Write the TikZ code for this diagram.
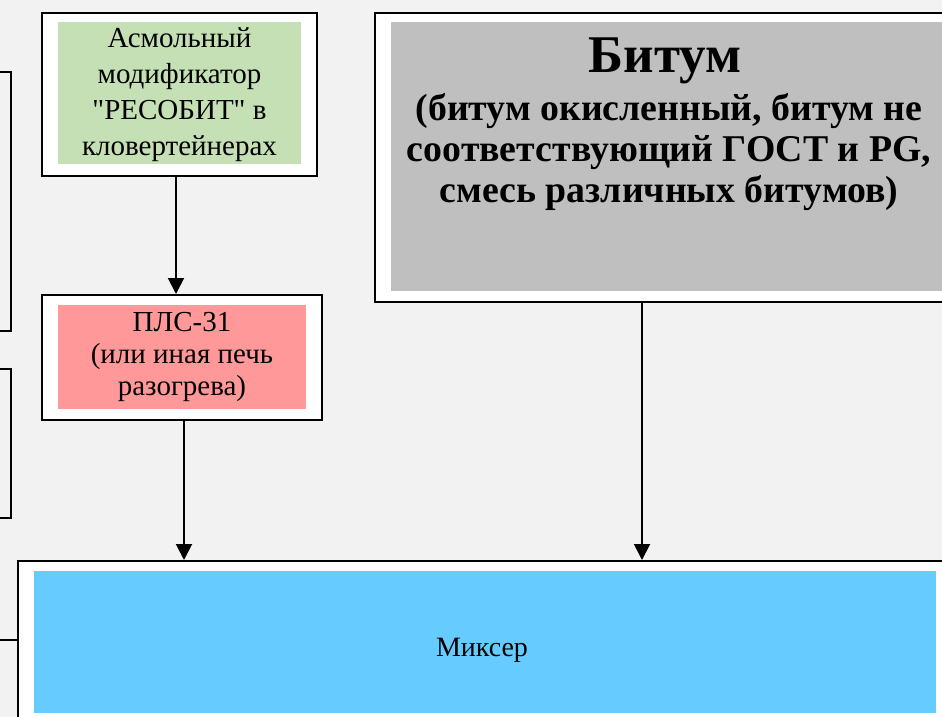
\documentclass[tikz,border=0pt]{standalone}
\usepackage{fontspec}
\setmainfont{Liberation Serif}
\newfontfamily\rawserif{Liberation Serif}[Ligatures=TeXOff]
\usetikzlibrary{arrows.meta,calc}
\definecolor{bgc}{HTML}{F2F2F2}
\definecolor{greenc}{HTML}{C5E0B4}
\definecolor{pinkc}{HTML}{FF9999}
\definecolor{grayc}{HTML}{BFBFBF}
\definecolor{cyanc}{HTML}{66CCFF}
\tikzset{
  outerbox/.style={draw=black,line width=1.9pt,fill=white,anchor=north west,inner sep=0pt},
  innerbox/.style={anchor=north west,inner sep=0pt,align=center},
  leftbox/.style={draw=black,line width=1.9pt,fill=bgc,anchor=north west,inner sep=0pt},
  conn/.style={line width=1.9pt},
  arr/.style={line width=1.9pt,-{Triangle[length=16pt,width=16pt]}},
  normtext/.style={font=\fontsize{29}{34}\selectfont,align=center,inner sep=0pt},
}
\begin{document}
\begin{tikzpicture}[x=1pt,y=-1pt]
\useasboundingbox (0,0) rectangle (942,717);
\fill[bgc] (0,0) rectangle (942,717);
\clip (0,0) rectangle (942,717);

% left partial boxes
\node[leftbox,minimum width=20pt,minimum height=259pt] (left1) at (-10,71) {};
\node[leftbox,minimum width=20pt,minimum height=149pt] (left2) at (-10,368) {};

% Asmol modifier
\node[outerbox,minimum width=275pt,minimum height=163pt] (asmolOuter) at (41,12) {};
\node[innerbox,fill=greenc,minimum width=243pt,minimum height=142pt] (asmol) at (58,22) {};
\node[normtext,font=\fontsize{29}{36}\selectfont] (asmolText) at (179.5,95) {Асмольный\\модификатор\\{\rawserif"РЕСОБИТ"} в\\кловертейнерах};

% PLS-31
\node[outerbox,minimum width=280pt,minimum height=125pt] (plsOuter) at (41,294) {};
\node[innerbox,fill=pinkc,minimum width=248pt,minimum height=104pt] (pls) at (58,305) {};
\node[normtext,font=\fontsize{29}{32}\selectfont] (plsText) at (182,357) {ПЛС-31\\(или иная печь\\разогрева)};

% Bitum
\node[outerbox,minimum width=600pt,minimum height=289pt] (bitOuter) at (374,12) {};
\node[innerbox,fill=grayc,minimum width=560pt,minimum height=269pt] (bit) at (391,22) {};
\node[font=\fontsize{53}{60}\selectfont\bfseries,inner sep=0pt,anchor=base] (bitTitle) at (665,72) {Битум};
\node[font=\fontsize{37.8}{41}\selectfont\bfseries,inner sep=0pt,align=center] (bitText) at (669,152) {(битум окисленный, битум не\\соответствующий ГОСТ и PG,\\смесь различных битумов)};

% Mixer
\node[outerbox,minimum width=950pt,minimum height=170pt] (mixOuter) at (17,560) {};
\node[innerbox,fill=cyanc,minimum width=902pt,minimum height=142pt] (mix) at (34,571) {};
\node[font=\fontsize{28}{32}\selectfont,inner sep=0pt] (mixText) at (482,650) {Миксер};

% connectors
\coordinate (xa) at (176,0);
\coordinate (xb) at (184,0);
\coordinate (xc) at (642,0);
\coordinate (lin) at (-5,640);
\draw[arr] (asmolOuter.south -| xa) -- (plsOuter.north -| xa);
\draw[arr] (plsOuter.south -| xb) -- (mixOuter.north -| xb);
\draw[arr] (bitOuter.south -| xc) -- (mixOuter.north -| xc);
\draw[conn] (lin) -- (lin -| mixOuter.west);
\end{tikzpicture}
\end{document}
